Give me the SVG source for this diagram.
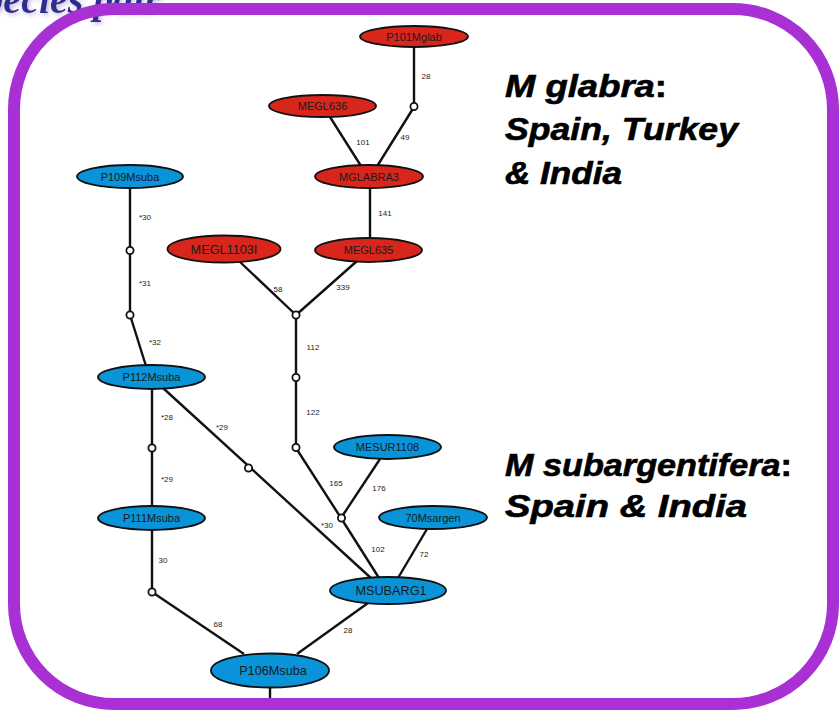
<svg xmlns="http://www.w3.org/2000/svg" width="839" height="710" viewBox="0 0 839 710">
  <defs>
    <filter id="glow" x="-10%" y="-50%" width="120%" height="200%">
      <feGaussianBlur in="SourceAlpha" stdDeviation="2"/>
      <feOffset dx="2" dy="2" result="b"/>
      <feFlood flood-color="#b9a6d8" flood-opacity="0.8"/>
      <feComposite in2="b" operator="in"/>
      <feMerge><feMergeNode/><feMergeNode in="SourceGraphic"/></feMerge>
    </filter>
  </defs>
  <style>
    .edge { stroke: #111; stroke-width: 2.4; fill: none; }
    .jn { fill: #fff; stroke: #111; stroke-width: 1.8; }
    .red { fill: #d8261d; stroke: #111; stroke-width: 1.8; }
    .blue { fill: #0993d8; stroke: #111; stroke-width: 1.8; }
    .lbl { font-family: "Liberation Sans", Arial, sans-serif; font-size: 11px; fill: #1a1a1a; text-anchor: middle; }
    .big { font-size: 12.7px; }
    .w { font-family: "Liberation Sans", Arial, sans-serif; font-size: 8px; fill: #222; text-anchor: middle; }
    .cap { font-family: "Liberation Sans", Arial, sans-serif; font-size: 31px; font-weight: bold; font-style: italic; fill: #000; stroke: #000; stroke-width: 0.6; }
    .cap tspan.u { font-style: normal; }
  </style>

  <rect width="839" height="710" fill="#fff"/>

  <!-- heading, partly outside the page -->
  <text x="160" y="13" text-anchor="end" font-family="'Liberation Serif', 'Times New Roman', serif" font-size="40" font-weight="bold" font-style="italic" fill="#2e2e8e" filter="url(#glow)">Species pair</text>

  <!-- connectors -->
  <g id="connectors">
    <line class="edge" x1="414" y1="47" x2="414" y2="107"/>
    <line class="edge" x1="414" y1="107" x2="376" y2="168"/>
    <line class="edge" x1="330" y1="117" x2="361" y2="166"/>
    <line class="edge" x1="370" y1="188" x2="370" y2="238"/>
    <line class="edge" x1="240" y1="262" x2="296" y2="315"/>
    <line class="edge" x1="357" y1="261" x2="296" y2="315"/>
    <line class="edge" x1="296" y1="315" x2="296" y2="448"/>
    <line class="edge" x1="296" y1="448" x2="341" y2="518"/>
    <line class="edge" x1="380" y1="459" x2="341" y2="518"/>
    <line class="edge" x1="341" y1="518" x2="379" y2="578"/>
    <line class="edge" x1="427" y1="529" x2="398" y2="578"/>
    <line class="edge" x1="163" y1="388" x2="372" y2="579"/>
    <line class="edge" x1="130" y1="187" x2="130" y2="315"/>
    <line class="edge" x1="130" y1="315" x2="146" y2="366"/>
    <line class="edge" x1="152" y1="389" x2="152" y2="506"/>
    <line class="edge" x1="152" y1="530" x2="152" y2="592"/>
    <line class="edge" x1="152" y1="592" x2="244" y2="654"/>
    <line class="edge" x1="368" y1="603" x2="297" y2="654"/>
    <line class="edge" x1="270" y1="687" x2="270" y2="705"/>

    <circle class="jn" cx="414" cy="106.5" r="3.6"/>
    <circle class="jn" cx="296" cy="315" r="3.6"/>
    <circle class="jn" cx="296" cy="377.5" r="3.6"/>
    <circle class="jn" cx="296" cy="447.5" r="3.6"/>
    <circle class="jn" cx="341.5" cy="518" r="3.6"/>
    <circle class="jn" cx="248.5" cy="468" r="3.6"/>
    <circle class="jn" cx="130" cy="250.5" r="3.6"/>
    <circle class="jn" cx="130" cy="315" r="3.6"/>
    <circle class="jn" cx="152" cy="448" r="3.6"/>
    <circle class="jn" cx="152" cy="592" r="3.6"/>

    <text class="w" x="426" y="79">28</text>
    <text class="w" x="405" y="140">49</text>
    <text class="w" x="363" y="145">101</text>
    <text class="w" x="385" y="216">141</text>
    <text class="w" x="278" y="292">58</text>
    <text class="w" x="343" y="290">339</text>
    <text class="w" x="313" y="350">112</text>
    <text class="w" x="313" y="415">122</text>
    <text class="w" x="336" y="486">165</text>
    <text class="w" x="379" y="491">176</text>
    <text class="w" x="378" y="552">102</text>
    <text class="w" x="424" y="557">72</text>
    <text class="w" x="222" y="430">*29</text>
    <text class="w" x="327" y="528">*30</text>
    <text class="w" x="145" y="220">*30</text>
    <text class="w" x="145" y="286">*31</text>
    <text class="w" x="155" y="345">*32</text>
    <text class="w" x="167" y="420">*28</text>
    <text class="w" x="167" y="482">*29</text>
    <text class="w" x="163" y="563">30</text>
    <text class="w" x="218" y="627">68</text>
    <text class="w" x="348" y="633">28</text>
  </g>

  <!-- M. glabra nodes -->
  <g id="P101Mglab"><ellipse class="red" cx="414" cy="36.5" rx="54" ry="10.5"/><text class="lbl" x="414" y="40.5">P101Mglab</text></g>
  <g id="MEGL636"><ellipse class="red" cx="322.5" cy="106" rx="53.5" ry="11"/><text class="lbl" x="322.5" y="110">MEGL636</text></g>
  <g id="MGLABRA3"><ellipse class="red" cx="369" cy="176.5" rx="54" ry="11.5"/><text class="lbl" x="369" y="180.5">MGLABRA3</text></g>
  <g id="MEGL1103I"><ellipse class="red" cx="224" cy="249" rx="56.5" ry="13.5"/><text class="lbl big" x="224" y="253.5">MEGL1103I</text></g>
  <g id="MEGL635"><ellipse class="red" cx="368.5" cy="250" rx="53.5" ry="12"/><text class="lbl" x="368.5" y="254">MEGL635</text></g>

  <!-- M. subargentifera nodes -->
  <g id="P109Msuba"><ellipse class="blue" cx="130" cy="176.5" rx="53" ry="11.5"/><text class="lbl" x="130" y="180.5">P109Msuba</text></g>
  <g id="P112Msuba"><ellipse class="blue" cx="151.5" cy="377" rx="53.5" ry="12"/><text class="lbl" x="151.5" y="381">P112Msuba</text></g>
  <g id="P111Msuba"><ellipse class="blue" cx="151.5" cy="518" rx="53.5" ry="12"/><text class="lbl" x="151.5" y="522">P111Msuba</text></g>
  <g id="MESUR1108"><ellipse class="blue" cx="387.5" cy="447" rx="53.5" ry="12"/><text class="lbl" x="387.5" y="451">MESUR1108</text></g>
  <g id="70Msargen"><ellipse class="blue" cx="433" cy="517.5" rx="54" ry="11.5"/><text class="lbl" x="433" y="521.5">70Msargen</text></g>
  <g id="MSUBARG1"><ellipse class="blue" cx="388" cy="590.5" rx="58" ry="13.5"/><text class="lbl big" x="391" y="595">MSUBARG1</text></g>
  <g id="P106Msuba"><ellipse class="blue" cx="270" cy="670.5" rx="59" ry="17"/><text class="lbl big" x="273" y="675">P106Msuba</text></g>

  <!-- species captions -->
  <text class="cap" x="505" y="97" textLength="162" lengthAdjust="spacingAndGlyphs">M glabra<tspan class="u">:</tspan></text>
  <text class="cap" x="505" y="140" textLength="233" lengthAdjust="spacingAndGlyphs">Spain, Turkey</text>
  <text class="cap" x="505" y="184" textLength="117" lengthAdjust="spacingAndGlyphs">&amp; India</text>
  <text class="cap" x="505" y="476" textLength="287" lengthAdjust="spacingAndGlyphs">M subargentifera<tspan class="u">:</tspan></text>
  <text class="cap" x="505" y="517" textLength="242" lengthAdjust="spacingAndGlyphs">Spain &amp; India</text>

  <!-- frame -->
  <rect x="14" y="9" width="819" height="695" rx="100" ry="100" fill="none" stroke="#a830d4" stroke-width="12"/>
</svg>
